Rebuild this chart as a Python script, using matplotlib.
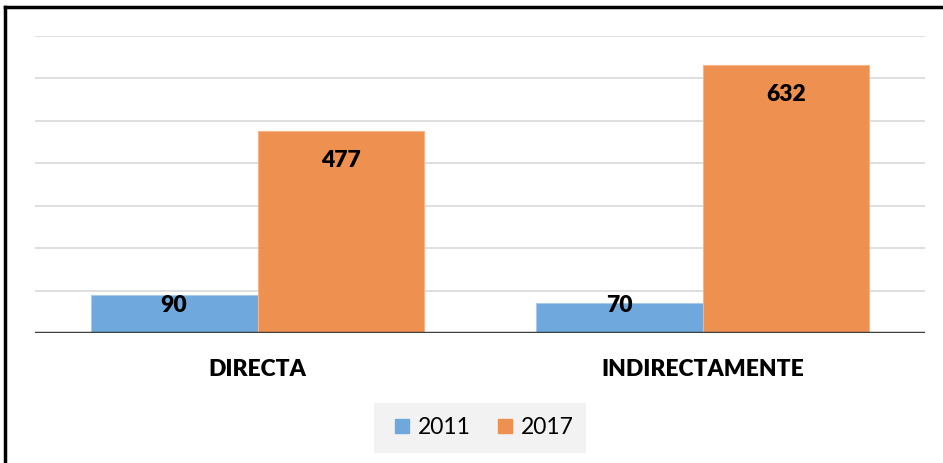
import numpy as np
import matplotlib.pyplot as plt
from matplotlib.lines import Line2D

categories = ["DIRECTA", "INDIRECTAMENTE"]
years = ["2011", "2017"]
values_2011 = [90, 70]
values_2017 = [477, 632]

BLUE = "#6FA8DC"
ORANGE = "#EE9150"
FONT = ["Lato", "DejaVu Sans"]

fig = plt.figure(figsize=(9.43, 4.63), dpi=100)
ax = fig.add_axes([35 / 943, 1 - 333 / 463, 890 / 943, (333 - 36) / 463])

x = np.arange(len(categories))
w = 0.375
b1 = ax.bar(x - w / 2, values_2011, w, color=BLUE, edgecolor="#A9CBEA", linewidth=0.8, label=years[0], zorder=2)
b2 = ax.bar(x + w / 2, values_2017, w, color=ORANGE, edgecolor="#F5B489", linewidth=0.8, label=years[1], zorder=2)

ax.set_xlim(-0.5, 1.5)
ax.set_ylim(0, 700)
ax.set_yticks(np.arange(0, 701, 100))
ax.yaxis.grid(True, color="#D9D9D9", linewidth=1.2, zorder=0)
ax.set_axisbelow(True)
ax.tick_params(left=False, labelleft=False, bottom=False, labelbottom=False)
for s in ax.spines.values():
    s.set_visible(False)
ax.axhline(0, color="#404040", linewidth=2.5, zorder=3)

# value labels inside the top of each bar
for bars in (b1, b2):
    for r in bars:
        v = r.get_height()
        ax.text(r.get_x() + r.get_width() / 2, max(v - 71, 64), f"{v:g}",
                ha="center", va="center", fontsize=16.5, fontweight="heavy",
                family=FONT, color="black", zorder=4)

for xi, c in zip(x, categories):
    fig.text((35 + 445 * (xi + 0.5)) / 943, 1 - 370 / 463, c, ha="center", va="center",
             fontsize=16.5, fontweight="heavy", family=FONT)

# legend with grey background
fig.patches.append(plt.Rectangle((374 / 943, 1 - 453 / 463), 212 / 943, 50 / 463,
                                 transform=fig.transFigure, facecolor="#F2F2F2",
                                 edgecolor="none", zorder=0))
handles = [Line2D([], [], marker="s", linestyle="none", markersize=10, color=BLUE),
           Line2D([], [], marker="s", linestyle="none", markersize=10, color=ORANGE)]
fig.legend(handles, years, loc="center", bbox_to_anchor=(482 / 943, 1 - 428 / 463),
           ncol=2, frameon=False, prop={"family": FONT, "size": 16.5},
           handletextpad=0.2, columnspacing=1.0, handlelength=1.0)

# border on top and left
fig.add_artist(Line2D([5 / 943, 5 / 943], [0, 1 - 7 / 463], transform=fig.transFigure,
                      color="black", linewidth=2.5))
fig.add_artist(Line2D([5 / 943, 1], [1 - 7 / 463, 1 - 7 / 463], transform=fig.transFigure,
                      color="black", linewidth=2.5))

fig.savefig("out.png", dpi=100)
